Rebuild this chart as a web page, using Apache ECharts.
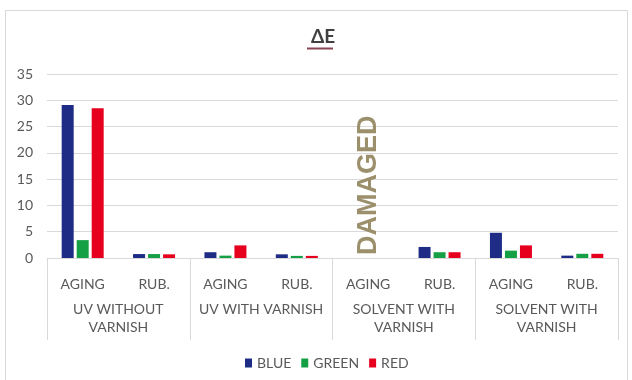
<!DOCTYPE html>
<html>
<head>
<meta charset="utf-8">
<script src="https://cdn.jsdelivr.net/npm/echarts@6/dist/echarts.min.js"></script>
<style>
  html, body { margin: 0; padding: 0; background: #fff; }
  #chart { width: 632px; height: 380px; }
</style>
</head>
<body>
<div id="chart"></div>
<script>
// ΔE per treatment and test, for the three colour patches
const tests = ['AGING', 'RUB.', 'AGING', 'RUB.', 'AGING', 'RUB.', 'AGING', 'RUB.'];
const groups = ['UV WITHOUT\nVARNISH', 'UV WITH VARNISH', 'SOLVENT WITH\nVARNISH', 'SOLVENT WITH\nVARNISH'];
const blueValues  = [29.1, 0.75, 1.1, 0.7, null, 2.1, 4.8, 0.45];
const greenValues = [3.4, 0.75, 0.45, 0.4, 0, 1.1, 1.4, 0.8];
const redValues   = [28.5, 0.7, 2.4, 0.4, null, 1.1, 2.4, 0.8];
const damagedIndex = 4;
const yTicks = { min: 0, max: 35, interval: 5 };

const FONT = 'Lato, "Noto Sans", sans-serif';
const GRAY = '#595959';
const LINE = '#d9d9d9';

const greenData = greenValues.map((v, i) => i === damagedIndex ? {
  value: v,
  label: {
    show: true,
    formatter: 'DAMAGED',
    position: 'insideBottom',
    rotate: 90,
    align: 'left',
    verticalAlign: 'middle',
    distance: 3,
    fontFamily: 'Liberation Sans, Arial, sans-serif',
    fontSize: 27,
    fontWeight: 'bold',
    color: '#9c8f6c'
  }
} : v);

const chart = echarts.init(document.getElementById('chart'), null, { renderer: 'canvas' });
chart.setOption({
  animation: false,
  backgroundColor: '#fff',
  textStyle: { fontFamily: FONT },
  title: {
    text: 'ΔE',
    left: 311,
    top: 27,
    padding: 0,
    textStyle: { fontFamily: FONT, fontSize: 19, fontWeight: 'bold', color: '#404040' }
  },
  graphic: [
    {
      type: 'rect', silent: true, z: -1,
      shape: { x: 5.5, y: 10.5, width: 622, height: 380 },
      style: { fill: 'none', stroke: LINE, lineWidth: 1 }
    },
    {
      type: 'line', silent: true,
      shape: { x1: 307, y1: 48.5, x2: 333, y2: 48.5 },
      style: { stroke: '#8a4452', lineWidth: 2 }
    }
  ],
  legend: {
    left: 240,
    top: 351,
    icon: 'rect',
    itemWidth: 7,
    itemHeight: 9,
    itemGap: 10,
    textStyle: { fontFamily: FONT, fontSize: 14, color: GRAY },
    data: ['BLUE', 'GREEN', 'RED']
  },
  grid: { left: 47, right: 14, top: 74, bottom: 122 },
  xAxis: [
    {
      type: 'category',
      data: tests,
      axisLine: { onZero: false, lineStyle: { color: LINE } },
      axisTick: { show: false },
      axisLabel: { interval: 0, margin: 19, fontFamily: FONT, fontSize: 14, color: GRAY }
    },
    {
      type: 'category',
      data: groups,
      position: 'bottom',
      axisLine: { show: false, onZero: false },
      axisTick: { show: true, interval: 0, length: 82, lineStyle: { color: LINE } },
      axisLabel: { interval: 0, margin: 42, lineHeight: 18, fontFamily: FONT, fontSize: 14, color: GRAY }
    }
  ],
  yAxis: {
    type: 'value',
    min: yTicks.min,
    max: yTicks.max,
    interval: yTicks.interval,
    axisLine: { show: false },
    axisTick: { show: false },
    splitLine: { lineStyle: { color: LINE } },
    axisLabel: { margin: 14, fontFamily: FONT, fontSize: 14, color: GRAY }
  },
  series: [
    { name: 'BLUE', type: 'bar', data: blueValues, barWidth: 12, barGap: '25%', itemStyle: { color: '#1f2c85' } },
    { name: 'GREEN', type: 'bar', data: greenData, barWidth: 12, barGap: '25%', itemStyle: { color: '#16a045' } },
    { name: 'RED', type: 'bar', data: redValues, barWidth: 12, barGap: '25%', itemStyle: { color: '#e6001e' } }
  ]
});
</script>
</body>
</html>
